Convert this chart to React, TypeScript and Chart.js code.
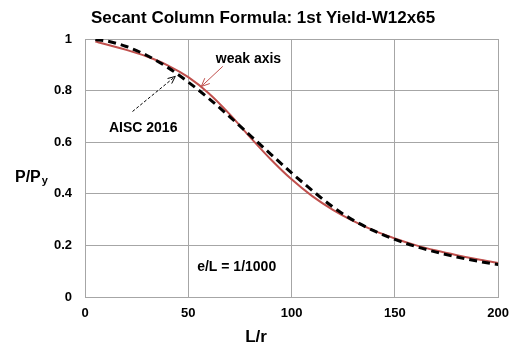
import { useEffect, useRef } from "react";
import { Chart, registerables } from "chart.js";

Chart.register(...registerables);

// Slenderness ratio L/r
const slenderness = [5, 10, 20, 30, 40, 50, 60, 70, 80, 90, 100, 110, 120, 130, 140, 150, 160, 170, 180, 190, 200];
// Secant formula, first yield, W12x65 weak axis (e/L = 1/1000)
const weakAxis = [0.99, 0.98, 0.958, 0.932, 0.898, 0.852, 0.789, 0.709, 0.619, 0.533, 0.456, 0.391, 0.338, 0.294, 0.257, 0.227, 0.201, 0.18, 0.162, 0.146, 0.132];
// AISC 2016 column curve
const aisc2016 = [0.998, 0.993, 0.971, 0.936, 0.89, 0.833, 0.769, 0.699, 0.626, 0.553, 0.481, 0.413, 0.349, 0.297, 0.256, 0.223, 0.196, 0.174, 0.155, 0.139, 0.126];

const xTickStep = 50;
const yTickStep = 0.2;

const titleText = "Secant Column Formula: 1st Yield-W12x65";
const xTitle = "L/r";
const yTitleMain = "P/P";
const yTitleSub = "y";
const weakLabel = "weak axis";
const aiscLabel = "AISC 2016";
const ecLabel = "e/L = 1/1000";

const FONT = "'Liberation Sans', Arial, Helvetica, sans-serif";
const RED = "#c0504d";
const GRID = "#a6a6a6";

function arrowHead(ctx: CanvasRenderingContext2D, fx: number, fy: number, tx: number, ty: number, len: number) {
  const ang = Math.atan2(ty - fy, tx - fx);
  const spread = 0.42;
  ctx.beginPath();
  ctx.moveTo(tx - len * Math.cos(ang - spread), ty - len * Math.sin(ang - spread));
  ctx.lineTo(tx, ty);
  ctx.lineTo(tx - len * Math.cos(ang + spread), ty - len * Math.sin(ang + spread));
  ctx.stroke();
}

const textPlugin = {
  id: "texts",
  afterDraw(chart: any) {
    const ctx: CanvasRenderingContext2D = chart.ctx;
    const xs = chart.scales.x;
    const ys = chart.scales.y;
    const px = (v: number) => xs.getPixelForValue(v);
    const py = (v: number) => ys.getPixelForValue(v);
    ctx.save();
    ctx.fillStyle = "#000";
    ctx.textBaseline = "alphabetic";

    // title
    ctx.font = `bold 17px ${FONT}`;
    ctx.textAlign = "center";
    ctx.fillText(titleText, 263, 23);

    // x title
    ctx.font = `bold 17px ${FONT}`;
    ctx.fillText(xTitle, 256, 342);

    // y title with subscript
    ctx.textAlign = "left";
    ctx.font = `bold 16px ${FONT}`;
    ctx.fillText(yTitleMain, 15, 182);
    const w = ctx.measureText(yTitleMain).width;
    ctx.font = `bold 11px ${FONT}`;
    ctx.fillText(yTitleSub, 15 + w + 1, 184);

    // annotations
    ctx.font = `bold 14px ${FONT}`;
    ctx.fillText(weakLabel, px(63.3), py(0.908));
    ctx.fillText(aiscLabel, px(11.6), py(0.638));
    ctx.fillText(ecLabel, px(54.3), py(0.102));

    // red arrow to weak axis curve
    ctx.strokeStyle = RED;
    ctx.lineWidth = 1;
    ctx.setLineDash([]);
    ctx.beginPath();
    ctx.moveTo(px(66.7), py(0.894));
    ctx.lineTo(px(56.3), py(0.816));
    ctx.stroke();
    arrowHead(ctx, px(66.7), py(0.894), px(56.3), py(0.816), 9);

    // dashed black arrow to AISC curve
    ctx.strokeStyle = "#000";
    ctx.setLineDash([3, 2]);
    ctx.beginPath();
    ctx.moveTo(px(23), py(0.719));
    ctx.lineTo(px(43.7), py(0.855));
    ctx.stroke();
    ctx.setLineDash([]);
    arrowHead(ctx, px(23), py(0.719), px(43.7), py(0.855), 8);

    ctx.restore();
  },
};

export default function App() {
  const ref = useRef<HTMLCanvasElement | null>(null);
  useEffect(() => {
    if (!ref.current) return;
    const tickFont = { family: FONT, size: 13, weight: "bold" as const };
    const chart = new Chart(ref.current, {
      type: "line",
      data: {
        datasets: [
          {
            label: "AISC 2016",
            data: slenderness.map((x, i) => ({ x, y: aisc2016[i] })),
            borderColor: "#000",
            borderWidth: 3,
            borderDash: [8, 5],
            pointRadius: 0,
            cubicInterpolationMode: "monotone",
            fill: false,
          },
          {
            label: "weak axis",
            data: slenderness.map((x, i) => ({ x, y: weakAxis[i] })),
            borderColor: RED,
            borderWidth: 2,
            pointRadius: 0,
            cubicInterpolationMode: "monotone",
            fill: false,
          },
        ],
      },
      options: {
        responsive: false,
        animation: false,
        layout: { padding: { top: 39, right: 14, left: 0, bottom: 0 } },
        plugins: { legend: { display: false }, title: { display: false }, tooltip: { enabled: false } },
        scales: {
          x: {
            type: "linear",
            min: 0,
            max: 200,
            ticks: { stepSize: xTickStep, font: tickFont, color: "#000", padding: 9 },
            grid: { color: GRID, drawTicks: false, lineWidth: 1 },
            border: { color: GRID },
            afterFit: (s: any) => {
              s.height = 49;
            },
          },
          y: {
            type: "linear",
            min: 0,
            max: 1,
            ticks: {
              stepSize: yTickStep,
              font: tickFont,
              color: "#000",
              padding: 13,
              callback: (v: any) => String(Number(Number(v).toFixed(1))),
            },
            grid: { color: GRID, drawTicks: false, lineWidth: 1 },
            border: { color: GRID },
            afterFit: (s: any) => {
              s.width = 85;
            },
          },
        },
      },
      plugins: [textPlugin],
    } as any);
    return () => chart.destroy();
  }, []);
  return (
    <div style={{ position: "fixed", left: 0, top: 0, width: 518, height: 346, background: "#fff" }}>
      <canvas ref={ref} width={518} height={346} />
    </div>
  );
}
